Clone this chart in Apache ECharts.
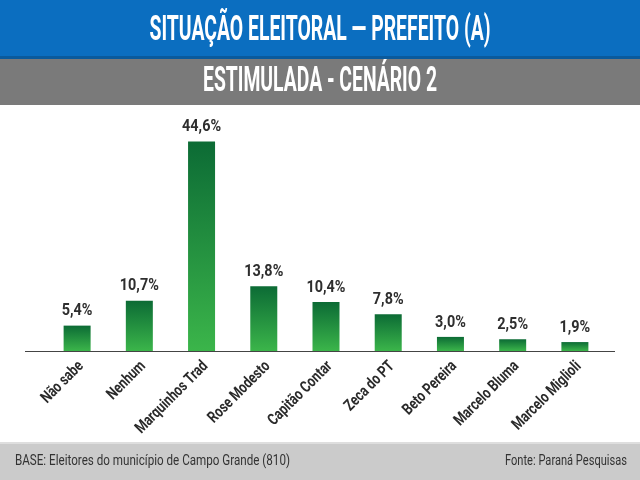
<!DOCTYPE html>
<html><head><meta charset="utf-8">
<script src="https://cdn.jsdelivr.net/npm/echarts@6/dist/echarts.min.js"></script>
<style>html,body{margin:0;padding:0;background:#fff}#c{width:640px;height:480px}</style>
</head><body><div id="c"></div>
<script>
const categories = ["Não sabe","Nenhum","Marquinhos Trad","Rose Modesto","Capitão Contar","Zeca do PT","Beto Pereira","Marcelo Bluma","Marcelo Miglioli"];
const values = [5.4,10.7,44.6,13.8,10.4,7.8,3.0,2.5,1.9];
const titleText = "SITUAÇÃO ELEITORAL — PREFEITO (A)";
const subtitleText = "ESTIMULADA - CENÁRIO 2";
const baseText = "BASE: Eleitores do município de Campo Grande (810)";
const sourceText = "Fonte: Paraná Pesquisas";

const ctx = document.createElement('canvas').getContext('2d');
function fitScale(text, font, target){ ctx.font = font; return target / ctx.measureText(text).width; }
const tFont = "bold 35px Roboto";
const fFont = "14px Roboto";
const vFont = "bold 17px Roboto";
const cFont = "bold 16px Roboto";
const vScale = fitScale("44,6%", vFont, 39);
const cScale = fitScale("Marquinhos Trad", cFont, 95);
const fmt = v => v.toFixed(1).replace('.', ',') + '%';

const chart = echarts.init(document.getElementById('c'));
chart.setOption({
  animation:false,
  backgroundColor:'#ffffff',
  graphic:[
    {type:'rect',shape:{x:0,y:0,width:640,height:58},style:{fill:'#0b6ec0'},z:0},
    {type:'rect',shape:{x:0,y:56,width:640,height:3},style:{fill:'#0a5a9c'},z:0},
    {type:'rect',shape:{x:0,y:59,width:640,height:46},style:{fill:'#7a7a7a'},z:0},
    {type:'rect',shape:{x:0,y:442,width:640,height:38},style:{fill:'#cbcbcb'},z:0},
    {type:'rect',shape:{x:0,y:442,width:640,height:2},style:{fill:'#dedede'},z:0},
    {type:'text',x:320,y:31,scaleX:fitScale(titleText,tFont,341),style:{text:titleText,fill:'#ffffff',font:tFont,align:'center',verticalAlign:'middle'},z:5},
    {type:'text',x:320,y:82,scaleX:fitScale(subtitleText,tFont,234),style:{text:subtitleText,fill:'#ffffff',font:tFont,align:'center',verticalAlign:'middle'},z:5},
    {type:'text',x:15,y:461,scaleX:fitScale(baseText,fFont,275),style:{text:baseText,fill:'#333333',font:fFont,align:'left',verticalAlign:'middle'},z:5},
    {type:'text',x:627,y:461,scaleX:fitScale(sourceText,fFont,122),style:{text:sourceText,fill:'#333333',font:fFont,align:'right',verticalAlign:'middle'},z:5},
    {type:'line',shape:{x1:25,y1:351.5,x2:615,y2:351.5},style:{stroke:'#444444',lineWidth:1},z:5}
  ],
  grid:{left:46,right:34,top:116,bottom:129},
  xAxis:{type:'category',data:categories,
    axisLine:{show:false},axisTick:{show:false},axisLabel:{show:false}},
  yAxis:{type:'value',min:0,max:50,show:false,splitLine:{show:false}},
  series:[
    {type:'bar',data:values,barWidth:27,
      itemStyle:{color:new echarts.graphic.LinearGradient(0,0,0,1,[{offset:0,color:'#0c6b35'},{offset:1,color:'#3bb54a'}])}},
    {type:'custom',data:values.map((v,i)=>[i,v]),z:10,
      renderItem:(params, api)=>{
        const i = api.value(0), v = api.value(1);
        const top = api.coord([i, v]);
        const base = api.coord([i, 0]);
        return {type:'group',children:[
          {type:'text',x:top[0],y:top[1]-6,scaleX:vScale,
            style:{text:fmt(v),font:vFont,fill:'#2e2e2e',align:'center',verticalAlign:'bottom'}},
          {type:'text',x:base[0]+4,y:base[1]+13,rotation:Math.PI/4,scaleX:cScale,
            style:{text:categories[i],font:cFont,fill:'#2a2a2a',align:'right',verticalAlign:'middle'}}
        ]};
      }}
  ]
});
</script></body></html>
